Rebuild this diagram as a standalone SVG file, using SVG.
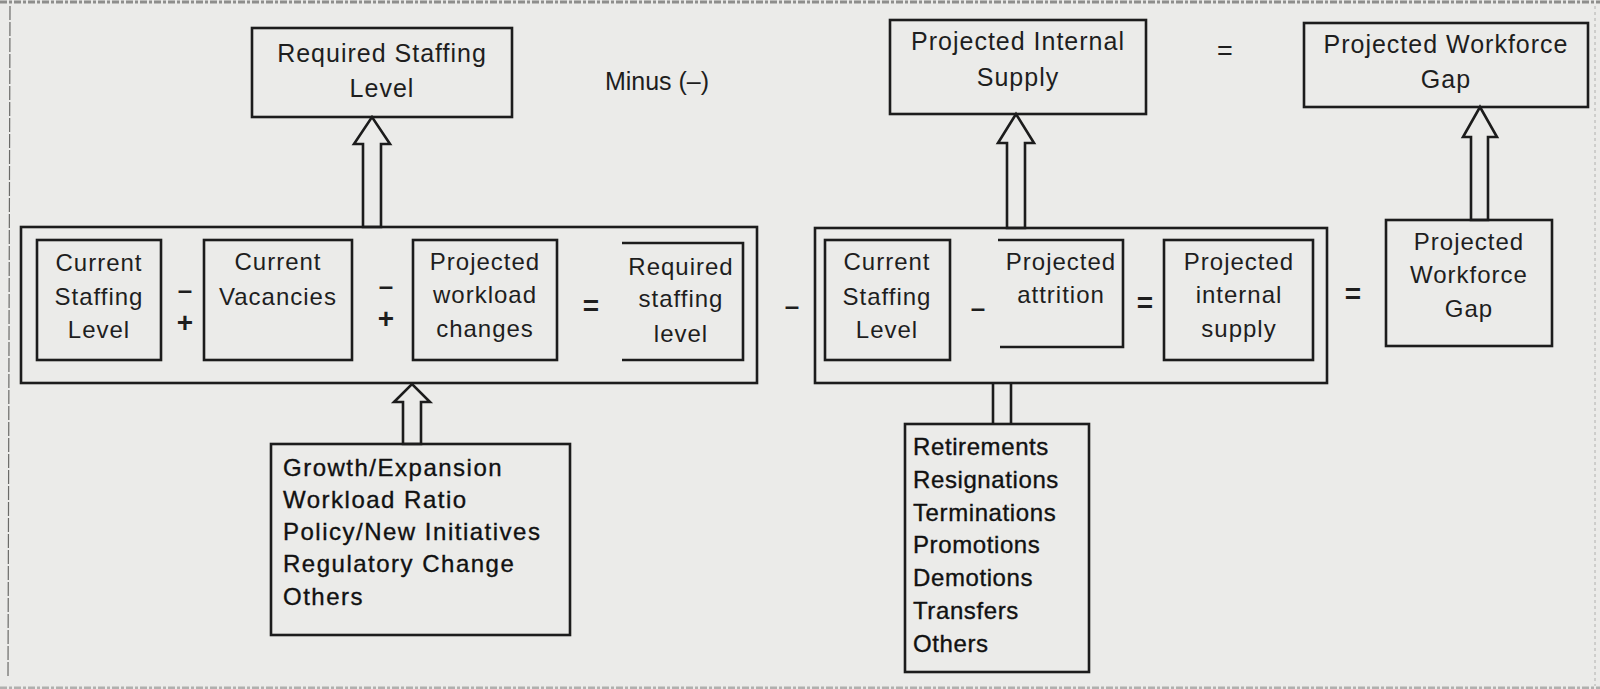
<svg xmlns="http://www.w3.org/2000/svg" width="1600" height="689" viewBox="0 0 1600 689">
<style>
.box{fill:none;stroke:#1c1c1c;stroke-width:2.6}
.ln{fill:none;stroke:#1c1c1c;stroke-width:2.6}
.arr{fill:none;stroke:#1c1c1c;stroke-width:2.6;stroke-linejoin:miter}
.t{font-family:"Liberation Sans",Arial,sans-serif;font-size:25px;fill:#1e1e1e;text-anchor:middle;letter-spacing:1px}
.s{font-family:"Liberation Sans",Arial,sans-serif;font-size:24px;fill:#1e1e1e;text-anchor:middle;letter-spacing:1px}
.op{font-family:"Liberation Sans",Arial,sans-serif;font-size:28px;font-weight:bold;fill:#1e1e1e;text-anchor:middle}
.dash{font-size:26px}
.l{font-family:"Liberation Sans",Arial,sans-serif;font-size:24px;fill:#111;stroke:#111;stroke-width:0.35;letter-spacing:1.5px}
.r{letter-spacing:0.6px}
.scan{fill:none;stroke:#8e8e8c;stroke-width:3;stroke-dasharray:7 2 3 2}
</style>
<rect x="0" y="0" width="1600" height="689" fill="#ebebe9"/>
<line class="scan" x1="0" y1="2" x2="1600" y2="2"/>
<line class="scan" x1="0" y1="688" x2="1600" y2="688" style="stroke:#b0b0ae"/>
<line x1="10" y1="6" x2="8" y2="678" stroke="#6a6a68" stroke-width="1.2" stroke-dasharray="14 2"/>
<line x1="1595" y1="6" x2="1595" y2="686" stroke="#b0b0ae" stroke-width="1" stroke-dasharray="3 3"/>

<g id="connectors">
  <polygon class="arr" points="363,227 363,144 354,144 372,117 390,144 381,144 381,227"/>
  <polygon class="arr" points="1007,228 1007,143 998,143 1016,114 1034,143 1025,143 1025,228"/>
  <polygon class="arr" points="1471,220 1471,137 1463,137 1480,107 1497,137 1488,137 1488,220"/>
  <polygon class="arr" points="403,444 403,402 394,402 412,384 430,402 421,402 421,444"/>
  <line class="ln" x1="993" y1="384" x2="993" y2="424"/>
  <line class="ln" x1="1011" y1="384" x2="1011" y2="424"/>
</g>

<g id="required-staffing-level-top">
  <rect class="box" x="252" y="28" width="260" height="89"/>
  <text class="t" x="382" y="62">Required Staffing</text>
  <text class="t" x="382" y="97">Level</text>
</g>

<g id="minus-label">
  <text class="t" x="657" y="90" style="letter-spacing:0">Minus (–)</text>
</g>

<g id="projected-internal-supply-top">
  <rect class="box" x="890" y="20" width="256" height="94"/>
  <text class="t" x="1018" y="50">Projected Internal</text>
  <text class="t" x="1018" y="86">Supply</text>
</g>

<g id="equals-top">
  <text class="op" x="1225" y="60" style="font-weight:normal;font-size:27px">=</text>
</g>

<g id="projected-workforce-gap-top">
  <rect class="box" x="1304" y="23" width="284" height="84"/>
  <text class="t" x="1446" y="53">Projected Workforce</text>
  <text class="t" x="1446" y="88">Gap</text>
</g>

<g id="required-group">
  <rect class="box" x="21" y="227" width="736" height="156"/>
</g>

<g id="current-staffing-level-1">
  <rect class="box" x="37" y="240" width="124" height="120"/>
  <text class="s" x="99" y="271">Current</text>
  <text class="s" x="99" y="305">Staffing</text>
  <text class="s" x="99" y="338">Level</text>
</g>

<g id="op-1">
  <text class="op dash" x="185" y="299">–</text>
  <text class="op" x="185" y="332">+</text>
</g>

<g id="current-vacancies">
  <rect class="box" x="204" y="240" width="148" height="120"/>
  <text class="s" x="278" y="270">Current</text>
  <text class="s" x="278" y="305">Vacancies</text>
</g>

<g id="op-2">
  <text class="op dash" x="386" y="295">–</text>
  <text class="op" x="386" y="328">+</text>
</g>

<g id="projected-workload-changes">
  <rect class="box" x="413" y="240" width="144" height="120"/>
  <text class="s" x="485" y="270">Projected</text>
  <text class="s" x="485" y="303">workload</text>
  <text class="s" x="485" y="337">changes</text>
</g>

<g id="op-3">
  <text class="op" x="591" y="315">=</text>
</g>

<g id="required-staffing-level-inner">
  <polyline class="ln" points="622,243 743,243 743,360 622,360"/>
  <text class="s" x="681" y="275">Required</text>
  <text class="s" x="681" y="307">staffing</text>
  <text class="s" x="681" y="342">level</text>
</g>

<g id="op-4">
  <text class="op dash" x="792" y="315">–</text>
</g>

<g id="supply-group">
  <rect class="box" x="815" y="228" width="512" height="155"/>
</g>

<g id="current-staffing-level-2">
  <rect class="box" x="825" y="240" width="125" height="120"/>
  <text class="s" x="887" y="270">Current</text>
  <text class="s" x="887" y="305">Staffing</text>
  <text class="s" x="887" y="338">Level</text>
</g>

<g id="op-5">
  <text class="op dash" x="978" y="317">–</text>
</g>

<g id="projected-attrition">
  <polyline class="ln" points="998,240 1123,240 1123,347 1000,347"/>
  <text class="s" x="1061" y="270">Projected</text>
  <text class="s" x="1061" y="303">attrition</text>
</g>

<g id="op-6">
  <text class="op" x="1145" y="312">=</text>
</g>

<g id="projected-internal-supply-inner">
  <rect class="box" x="1164" y="240" width="149" height="120"/>
  <text class="s" x="1239" y="270">Projected</text>
  <text class="s" x="1239" y="303">internal</text>
  <text class="s" x="1239" y="337">supply</text>
</g>

<g id="op-7">
  <text class="op" x="1353" y="303">=</text>
</g>

<g id="projected-workforce-gap-inner">
  <rect class="box" x="1386" y="220" width="166" height="126"/>
  <text class="s" x="1469" y="250">Projected</text>
  <text class="s" x="1469" y="283">Workforce</text>
  <text class="s" x="1469" y="317">Gap</text>
</g>

<g id="demand-drivers">
  <rect class="box" x="271" y="444" width="299" height="191"/>
  <text class="l" x="283" y="476">Growth/Expansion</text>
  <text class="l" x="283" y="508">Workload Ratio</text>
  <text class="l" x="283" y="540">Policy/New Initiatives</text>
  <text class="l" x="283" y="572">Regulatory Change</text>
  <text class="l" x="283" y="605">Others</text>
</g>

<g id="attrition-drivers">
  <rect class="box" x="905" y="424" width="184" height="248"/>
  <text class="l r" x="913" y="455">Retirements</text>
  <text class="l r" x="913" y="488">Resignations</text>
  <text class="l r" x="913" y="521">Terminations</text>
  <text class="l r" x="913" y="553">Promotions</text>
  <text class="l r" x="913" y="586">Demotions</text>
  <text class="l r" x="913" y="619">Transfers</text>
  <text class="l r" x="913" y="652">Others</text>
</g>
</svg>
